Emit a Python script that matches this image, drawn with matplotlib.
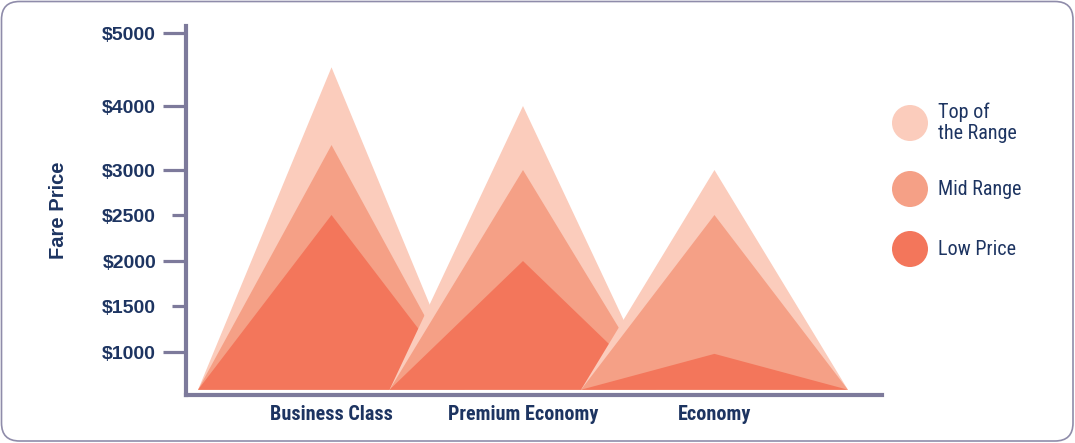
import numpy as np
import matplotlib
matplotlib.use("Agg")
import matplotlib.pyplot as plt
from matplotlib.patches import Polygon, Circle, FancyBboxPatch
from matplotlib.ticker import FixedLocator, FuncFormatter

# data
categories = ["Business Class", "Premium Economy", "Economy"]
top_range = [4530, 4000, 3000]
mid_range = [3390, 3000, 2500]
low_price = [2500, 2000, 980]
base_fare = 590
series_names = ["Top of\nthe Range", "Mid Range", "Low Price"]

major_ticks = [1000, 2000, 3000, 4000, 5000]
minor_ticks = [1500, 2500]

colors = ["#FBCCBC", "#F5A086", "#F3765B"]
navy = "#1D3461"
axis_col = "#7D7A9B"
narrow = ["Roboto Condensed", "Liberation Sans Narrow", "Liberation Sans"]
wide = ["Liberation Sans", "DejaVu Sans"]

# the reference axis is not linear: piecewise scale (value -> pixel height)
scale_vals = [0, 500, 1000, 1500, 2000, 2500, 3000, 4000, 5000, 6000]
scale_pix = [443 - p for p in [444, 398, 352, 306, 261, 215, 170, 106, 33, -40]]


def fwd(v):
    return np.interp(v, scale_vals, scale_pix)


def inv(h):
    return np.interp(h, scale_pix, scale_vals)


W, H = 1075, 443
fig = plt.figure(figsize=(W / 100, H / 100), dpi=100)

# overlay in pixel coordinates for frame and legend
ov = fig.add_axes([0, 0, 1, 1])
ov.set_xlim(0, W)
ov.set_ylim(H, 0)
ov.axis("off")
ov.add_patch(FancyBboxPatch((1.5, 1.5), W - 3.5, H - 3.5,
                            boxstyle="round,pad=0,rounding_size=18",
                            fc="white", ec="#8F8CAA", lw=1.2))

leg_y = [123, 189, 249]
for name, c, y in zip(series_names, colors, leg_y):
    ov.add_patch(Circle((910, y), 18, fc=c, ec="none"))
    ov.text(938, y, name, fontsize=14.5, family=narrow, color=navy,
            va="center", ha="left", linespacing=1.12)

ov.text(59, 210, "Fare Price", rotation=90, fontsize=14.5, family=wide,
        fontweight="bold", color=navy, ha="center", va="center")

# main chart
x0, x1, ytop, ybot = 186, 882, 26, 395
ax = fig.add_axes([x0 / W, (H - ybot) / H, (x1 - x0) / W, (ybot - ytop) / H])
ax.patch.set_alpha(0)
ax.set_yscale("function", functions=(fwd, inv))

half = 0.697
for i in range(len(categories)):
    for vals, c in zip([top_range, mid_range, low_price], colors):
        pts = [(i - half, base_fare), (i, vals[i]), (i + half, base_fare)]
        ax.add_patch(Polygon(pts, closed=True, fc=c, ec="none"))

ax.set_xlim(-0.760, 2.875)
ax.set_ylim(533, 5096)

for s in ["top", "right"]:
    ax.spines[s].set_visible(False)
for s in ["left", "bottom"]:
    ax.spines[s].set_color(axis_col)
    ax.spines[s].set_linewidth(3)

ax.set_xticks(range(len(categories)))
ax.set_xticklabels(categories, fontsize=14.5, family=narrow,
                   fontweight="bold", color=navy)
ax.tick_params(axis="x", length=0, pad=7)

ax.yaxis.set_major_locator(FixedLocator(major_ticks))
ax.yaxis.set_minor_locator(FixedLocator(minor_ticks))
fmt = FuncFormatter(lambda v, p: f"${v:.0f}")
ax.yaxis.set_major_formatter(fmt)
ax.yaxis.set_minor_formatter(fmt)
ax.tick_params(axis="y", which="major", length=16.5, width=2.3,
               color=axis_col, pad=5)
ax.tick_params(axis="y", which="minor", length=10, width=2.3,
               color=axis_col, pad=11.5)
for lab in ax.get_yticklabels(which="both"):
    lab.set_family(wide)
    lab.set_fontweight("bold")
    lab.set_fontsize(14)
    lab.set_color(navy)

fig.savefig("out.png", dpi=100)
